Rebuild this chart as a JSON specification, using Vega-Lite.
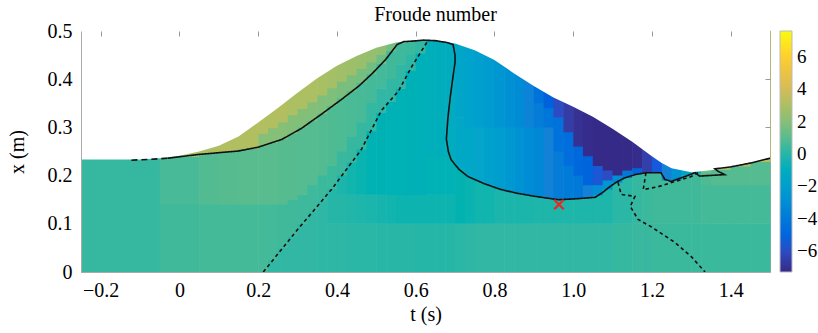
{
 "$schema": "https://vega.github.io/schema/vega-lite/v6.json",
 "width": 689, "height": 241,
 "autosize": {"type": "none"},
 "padding": {"left": 81, "top": 31, "right": 48, "bottom": 61},
 "background": "white",
 "config": {"view": {"stroke": "#aaaaaa", "strokeWidth": 1}, "font": "Liberation Serif"},
 "title": {"text": "Froude number", "font": "Liberation Serif", "fontSize": 20, "fontWeight": "normal", "color": "black", "offset": -4, "dx": 10},
 "datasets": {
  "cells": [
{"t0":-0.25,"t1":-0.05,"x0":0,"x1":0.5,"fr":0.3},
{"t0":-0.05,"t1":0.05,"x0":0,"x1":0.14,"fr":0.5},{"t0":-0.05,"t1":0.05,"x0":0.14,"x1":0.239,"fr":0.65},{"t0":-0.05,"t1":0.05,"x0":0.239,"x1":0.5,"fr":2.8},
{"t0":0.05,"t1":0.1,"x0":0,"x1":0.14,"fr":0.6},{"t0":0.05,"t1":0.1,"x0":0.14,"x1":0.245,"fr":0.85},{"t0":0.05,"t1":0.1,"x0":0.245,"x1":0.5,"fr":3.0},
{"t0":0.1,"t1":0.15,"x0":0,"x1":0.14,"fr":0.6},{"t0":0.1,"t1":0.15,"x0":0.14,"x1":0.249,"fr":0.95},{"t0":0.1,"t1":0.15,"x0":0.249,"x1":0.5,"fr":3.1},
{"t0":0.15,"t1":0.2,"x0":0,"x1":0.14,"fr":0.6},{"t0":0.15,"t1":0.2,"x0":0.14,"x1":0.255,"fr":1.0},{"t0":0.15,"t1":0.2,"x0":0.255,"x1":0.5,"fr":3.1},
{"t0":0.2,"t1":0.225,"x0":0,"x1":0.14,"fr":0.6},{"t0":0.2,"t1":0.225,"x0":0.14,"x1":0.262,"fr":1.0},{"t0":0.2,"t1":0.225,"x0":0.262,"x1":0.287,"fr":2.0},{"t0":0.2,"t1":0.225,"x0":0.287,"x1":0.5,"fr":3.1},
{"t0":0.225,"t1":0.25,"x0":0,"x1":0.025,"fr":0.2},{"t0":0.225,"t1":0.25,"x0":0.025,"x1":0.14,"fr":0.55},{"t0":0.225,"t1":0.25,"x0":0.14,"x1":0.268,"fr":1.0},{"t0":0.225,"t1":0.25,"x0":0.268,"x1":0.298,"fr":2.0},{"t0":0.225,"t1":0.25,"x0":0.298,"x1":0.5,"fr":3.1},
{"t0":0.25,"t1":0.275,"x0":0,"x1":0.05,"fr":0.2},{"t0":0.25,"t1":0.275,"x0":0.05,"x1":0.14,"fr":0.5},{"t0":0.25,"t1":0.275,"x0":0.14,"x1":0.275,"fr":0.95},{"t0":0.25,"t1":0.275,"x0":0.275,"x1":0.31,"fr":2.0},{"t0":0.25,"t1":0.275,"x0":0.31,"x1":0.5,"fr":3.1},
{"t0":0.275,"t1":0.3,"x0":0,"x1":0.075,"fr":0.2},{"t0":0.275,"t1":0.3,"x0":0.075,"x1":0.15,"fr":0.5},{"t0":0.275,"t1":0.3,"x0":0.15,"x1":0.287,"fr":0.95},{"t0":0.275,"t1":0.3,"x0":0.287,"x1":0.325,"fr":1.9},{"t0":0.275,"t1":0.3,"x0":0.325,"x1":0.5,"fr":3.0},
{"t0":0.3,"t1":0.325,"x0":0,"x1":0.1,"fr":0.2},{"t0":0.3,"t1":0.325,"x0":0.1,"x1":0.16,"fr":0.45},{"t0":0.3,"t1":0.325,"x0":0.16,"x1":0.3,"fr":0.9},{"t0":0.3,"t1":0.325,"x0":0.3,"x1":0.338,"fr":1.9},{"t0":0.3,"t1":0.325,"x0":0.338,"x1":0.5,"fr":3.0},
{"t0":0.325,"t1":0.35,"x0":0,"x1":0.124,"fr":0.2},{"t0":0.325,"t1":0.35,"x0":0.124,"x1":0.18,"fr":0.45},{"t0":0.325,"t1":0.35,"x0":0.18,"x1":0.313,"fr":0.9},{"t0":0.325,"t1":0.35,"x0":0.313,"x1":0.352,"fr":1.9},{"t0":0.325,"t1":0.35,"x0":0.352,"x1":0.5,"fr":3.0},
{"t0":0.35,"t1":0.375,"x0":0,"x1":0.148,"fr":0.15},{"t0":0.35,"t1":0.375,"x0":0.148,"x1":0.2,"fr":0.4},{"t0":0.35,"t1":0.375,"x0":0.2,"x1":0.328,"fr":0.85},{"t0":0.35,"t1":0.375,"x0":0.328,"x1":0.366,"fr":1.8},{"t0":0.35,"t1":0.375,"x0":0.366,"x1":0.5,"fr":2.9},
{"t0":0.375,"t1":0.4,"x0":0,"x1":0.1,"fr":0.15},{"t0":0.375,"t1":0.4,"x0":0.1,"x1":0.172,"fr":0.02},{"t0":0.375,"t1":0.4,"x0":0.172,"x1":0.22,"fr":0.4},{"t0":0.375,"t1":0.4,"x0":0.22,"x1":0.344,"fr":0.8},{"t0":0.375,"t1":0.4,"x0":0.344,"x1":0.381,"fr":1.8},{"t0":0.375,"t1":0.4,"x0":0.381,"x1":0.5,"fr":2.8},
{"t0":0.4,"t1":0.425,"x0":0,"x1":0.1,"fr":0.15},{"t0":0.4,"t1":0.425,"x0":0.1,"x1":0.16,"fr":0.0},{"t0":0.4,"t1":0.425,"x0":0.16,"x1":0.2,"fr":-0.15},{"t0":0.4,"t1":0.425,"x0":0.2,"x1":0.25,"fr":0.35},{"t0":0.4,"t1":0.425,"x0":0.25,"x1":0.36,"fr":0.75},{"t0":0.4,"t1":0.425,"x0":0.36,"x1":0.395,"fr":1.7},{"t0":0.4,"t1":0.425,"x0":0.395,"x1":0.5,"fr":2.7},
{"t0":0.425,"t1":0.45,"x0":0,"x1":0.1,"fr":0.1},{"t0":0.425,"t1":0.45,"x0":0.1,"x1":0.16,"fr":-0.05},{"t0":0.425,"t1":0.45,"x0":0.16,"x1":0.227,"fr":-0.25},{"t0":0.425,"t1":0.45,"x0":0.227,"x1":0.28,"fr":0.3},{"t0":0.425,"t1":0.45,"x0":0.28,"x1":0.375,"fr":0.7},{"t0":0.425,"t1":0.45,"x0":0.375,"x1":0.408,"fr":1.7},{"t0":0.425,"t1":0.45,"x0":0.408,"x1":0.5,"fr":2.6},
{"t0":0.45,"t1":0.475,"x0":0,"x1":0.1,"fr":0.1},{"t0":0.45,"t1":0.475,"x0":0.1,"x1":0.16,"fr":-0.1},{"t0":0.45,"t1":0.475,"x0":0.16,"x1":0.254,"fr":-0.35},{"t0":0.45,"t1":0.475,"x0":0.254,"x1":0.31,"fr":0.3},{"t0":0.45,"t1":0.475,"x0":0.31,"x1":0.392,"fr":0.65},{"t0":0.45,"t1":0.475,"x0":0.392,"x1":0.421,"fr":1.6},{"t0":0.45,"t1":0.475,"x0":0.421,"x1":0.5,"fr":2.5},
{"t0":0.475,"t1":0.5,"x0":0,"x1":0.1,"fr":0.1},{"t0":0.475,"t1":0.5,"x0":0.1,"x1":0.16,"fr":-0.15},{"t0":0.475,"t1":0.5,"x0":0.16,"x1":0.292,"fr":-0.45},{"t0":0.475,"t1":0.5,"x0":0.292,"x1":0.35,"fr":0.25},{"t0":0.475,"t1":0.5,"x0":0.35,"x1":0.41,"fr":0.6},{"t0":0.475,"t1":0.5,"x0":0.41,"x1":0.435,"fr":1.5},{"t0":0.475,"t1":0.5,"x0":0.435,"x1":0.5,"fr":2.4},
{"t0":0.5,"t1":0.525,"x0":0,"x1":0.1,"fr":0.05},{"t0":0.5,"t1":0.525,"x0":0.1,"x1":0.16,"fr":-0.2},{"t0":0.5,"t1":0.525,"x0":0.16,"x1":0.33,"fr":-0.5},{"t0":0.5,"t1":0.525,"x0":0.33,"x1":0.38,"fr":0.2},{"t0":0.5,"t1":0.525,"x0":0.38,"x1":0.432,"fr":0.55},{"t0":0.5,"t1":0.525,"x0":0.432,"x1":0.45,"fr":1.4},{"t0":0.5,"t1":0.525,"x0":0.45,"x1":0.5,"fr":2.2},
{"t0":0.525,"t1":0.55,"x0":0,"x1":0.1,"fr":0.05},{"t0":0.525,"t1":0.55,"x0":0.1,"x1":0.16,"fr":-0.25},{"t0":0.525,"t1":0.55,"x0":0.16,"x1":0.353,"fr":-0.55},{"t0":0.525,"t1":0.55,"x0":0.353,"x1":0.4,"fr":0.2},{"t0":0.525,"t1":0.55,"x0":0.4,"x1":0.458,"fr":0.5},{"t0":0.525,"t1":0.55,"x0":0.458,"x1":0.5,"fr":1.6},
{"t0":0.55,"t1":0.575,"x0":0,"x1":0.1,"fr":0.05},{"t0":0.55,"t1":0.575,"x0":0.1,"x1":0.16,"fr":-0.3},{"t0":0.55,"t1":0.575,"x0":0.16,"x1":0.38,"fr":-0.6},{"t0":0.55,"t1":0.575,"x0":0.38,"x1":0.43,"fr":0.2},{"t0":0.55,"t1":0.575,"x0":0.43,"x1":0.474,"fr":0.45},{"t0":0.55,"t1":0.575,"x0":0.474,"x1":0.5,"fr":1.4},
{"t0":0.575,"t1":0.6,"x0":0,"x1":0.1,"fr":0.05},{"t0":0.575,"t1":0.6,"x0":0.1,"x1":0.16,"fr":-0.3},{"t0":0.575,"t1":0.6,"x0":0.16,"x1":0.417,"fr":-0.65},{"t0":0.575,"t1":0.6,"x0":0.417,"x1":0.45,"fr":0.15},{"t0":0.575,"t1":0.6,"x0":0.45,"x1":0.5,"fr":0.4},
{"t0":0.6,"t1":0.625,"x0":0,"x1":0.1,"fr":0.0},{"t0":0.6,"t1":0.625,"x0":0.1,"x1":0.16,"fr":-0.3},{"t0":0.6,"t1":0.625,"x0":0.16,"x1":0.453,"fr":-0.7},{"t0":0.6,"t1":0.625,"x0":0.453,"x1":0.5,"fr":0.2},
{"t0":0.625,"t1":0.65,"x0":0,"x1":0.1,"fr":0.0},{"t0":0.625,"t1":0.65,"x0":0.1,"x1":0.16,"fr":-0.3},{"t0":0.625,"t1":0.65,"x0":0.16,"x1":0.24,"fr":-0.6},{"t0":0.625,"t1":0.65,"x0":0.24,"x1":0.5,"fr":-0.75},
{"t0":0.65,"t1":0.675,"x0":0,"x1":0.1,"fr":0.0},{"t0":0.65,"t1":0.675,"x0":0.1,"x1":0.16,"fr":-0.3},{"t0":0.65,"t1":0.675,"x0":0.16,"x1":0.24,"fr":-0.6},{"t0":0.65,"t1":0.675,"x0":0.24,"x1":0.5,"fr":-0.85},
{"t0":0.675,"t1":0.7,"x0":0,"x1":0.1,"fr":0.0},{"t0":0.675,"t1":0.7,"x0":0.1,"x1":0.16,"fr":-0.3},{"t0":0.675,"t1":0.7,"x0":0.16,"x1":0.24,"fr":-0.55},{"t0":0.675,"t1":0.7,"x0":0.24,"x1":0.5,"fr":-1.0},
{"t0":0.7,"t1":0.725,"x0":0,"x1":0.1,"fr":0.1},{"t0":0.7,"t1":0.725,"x0":0.1,"x1":0.215,"fr":-0.4},{"t0":0.7,"t1":0.725,"x0":0.215,"x1":0.32,"fr":-1.4},{"t0":0.7,"t1":0.725,"x0":0.32,"x1":0.5,"fr":-1.6},
{"t0":0.725,"t1":0.75,"x0":0,"x1":0.1,"fr":0.15},{"t0":0.725,"t1":0.75,"x0":0.1,"x1":0.196,"fr":-0.35},{"t0":0.725,"t1":0.75,"x0":0.196,"x1":0.3,"fr":-1.5},{"t0":0.725,"t1":0.75,"x0":0.3,"x1":0.5,"fr":-1.8},
{"t0":0.75,"t1":0.775,"x0":0,"x1":0.1,"fr":0.2},{"t0":0.75,"t1":0.775,"x0":0.1,"x1":0.188,"fr":-0.25},{"t0":0.75,"t1":0.775,"x0":0.188,"x1":0.3,"fr":-1.7},{"t0":0.75,"t1":0.775,"x0":0.3,"x1":0.5,"fr":-2.0},
{"t0":0.775,"t1":0.8,"x0":0,"x1":0.1,"fr":0.2},{"t0":0.775,"t1":0.8,"x0":0.1,"x1":0.18,"fr":-0.25},{"t0":0.775,"t1":0.8,"x0":0.18,"x1":0.3,"fr":-1.9},{"t0":0.775,"t1":0.8,"x0":0.3,"x1":0.5,"fr":-2.2},
{"t0":0.8,"t1":0.825,"x0":0,"x1":0.1,"fr":0.2},{"t0":0.8,"t1":0.825,"x0":0.1,"x1":0.172,"fr":-0.15},{"t0":0.8,"t1":0.825,"x0":0.172,"x1":0.3,"fr":-2.1},{"t0":0.8,"t1":0.825,"x0":0.3,"x1":0.5,"fr":-2.5},
{"t0":0.825,"t1":0.85,"x0":0,"x1":0.1,"fr":0.2},{"t0":0.825,"t1":0.85,"x0":0.1,"x1":0.167,"fr":-0.15},{"t0":0.825,"t1":0.85,"x0":0.167,"x1":0.3,"fr":-2.4},{"t0":0.825,"t1":0.85,"x0":0.3,"x1":0.5,"fr":-2.8},
{"t0":0.85,"t1":0.875,"x0":0,"x1":0.1,"fr":0.2},{"t0":0.85,"t1":0.875,"x0":0.1,"x1":0.163,"fr":-0.15},{"t0":0.85,"t1":0.875,"x0":0.163,"x1":0.3,"fr":-2.7},{"t0":0.85,"t1":0.875,"x0":0.3,"x1":0.5,"fr":-3.1},
{"t0":0.875,"t1":0.9,"x0":0,"x1":0.1,"fr":0.2},{"t0":0.875,"t1":0.9,"x0":0.1,"x1":0.159,"fr":-0.15},{"t0":0.875,"t1":0.9,"x0":0.159,"x1":0.3,"fr":-3.0},{"t0":0.875,"t1":0.9,"x0":0.3,"x1":0.5,"fr":-3.5},
{"t0":0.9,"t1":0.925,"x0":0,"x1":0.1,"fr":0.2},{"t0":0.9,"t1":0.925,"x0":0.1,"x1":0.156,"fr":-0.1},{"t0":0.9,"t1":0.925,"x0":0.156,"x1":0.3,"fr":-3.3},{"t0":0.9,"t1":0.925,"x0":0.3,"x1":0.35,"fr":-3.8},{"t0":0.9,"t1":0.925,"x0":0.35,"x1":0.5,"fr":-4.4},
{"t0":0.925,"t1":0.95,"x0":0,"x1":0.1,"fr":0.2},{"t0":0.925,"t1":0.95,"x0":0.1,"x1":0.153,"fr":-0.1},{"t0":0.925,"t1":0.95,"x0":0.153,"x1":0.3,"fr":-3.6},{"t0":0.925,"t1":0.95,"x0":0.3,"x1":0.34,"fr":-4.2},{"t0":0.925,"t1":0.95,"x0":0.34,"x1":0.5,"fr":-5.2},
{"t0":0.95,"t1":0.975,"x0":0,"x1":0.1,"fr":0.2},{"t0":0.95,"t1":0.975,"x0":0.1,"x1":0.15,"fr":-0.1},{"t0":0.95,"t1":0.975,"x0":0.15,"x1":0.25,"fr":-3.8},{"t0":0.95,"t1":0.975,"x0":0.25,"x1":0.32,"fr":-4.4},{"t0":0.95,"t1":0.975,"x0":0.32,"x1":0.5,"fr":-6.0},
{"t0":0.975,"t1":1.0,"x0":0,"x1":0.1,"fr":0.2},{"t0":0.975,"t1":1.0,"x0":0.1,"x1":0.151,"fr":-0.1},{"t0":0.975,"t1":1.0,"x0":0.151,"x1":0.22,"fr":-3.9},{"t0":0.975,"t1":1.0,"x0":0.22,"x1":0.29,"fr":-4.6},{"t0":0.975,"t1":1.0,"x0":0.29,"x1":0.5,"fr":-6.6},
{"t0":1.0,"t1":1.025,"x0":0,"x1":0.1,"fr":0.2},{"t0":1.0,"t1":1.025,"x0":0.1,"x1":0.152,"fr":-0.1},{"t0":1.0,"t1":1.025,"x0":0.152,"x1":0.2,"fr":-4.0},{"t0":1.0,"t1":1.025,"x0":0.2,"x1":0.26,"fr":-4.9},{"t0":1.0,"t1":1.025,"x0":0.26,"x1":0.5,"fr":-7.0},
{"t0":1.025,"t1":1.05,"x0":0,"x1":0.1,"fr":0.2},{"t0":1.025,"t1":1.05,"x0":0.1,"x1":0.154,"fr":-0.1},{"t0":1.025,"t1":1.05,"x0":0.154,"x1":0.18,"fr":-3.6},{"t0":1.025,"t1":1.05,"x0":0.18,"x1":0.24,"fr":-5.1},{"t0":1.025,"t1":1.05,"x0":0.24,"x1":0.5,"fr":-7.2},
{"t0":1.05,"t1":1.075,"x0":0,"x1":0.1,"fr":0.2},{"t0":1.05,"t1":1.075,"x0":0.1,"x1":0.158,"fr":-0.1},{"t0":1.05,"t1":1.075,"x0":0.158,"x1":0.18,"fr":-2.8},{"t0":1.05,"t1":1.075,"x0":0.18,"x1":0.22,"fr":-5.6},{"t0":1.05,"t1":1.075,"x0":0.22,"x1":0.5,"fr":-7.3},
{"t0":1.075,"t1":1.1,"x0":0,"x1":0.1,"fr":0.2},{"t0":1.075,"t1":1.1,"x0":0.1,"x1":0.171,"fr":-0.1},{"t0":1.075,"t1":1.1,"x0":0.171,"x1":0.19,"fr":-2.5},{"t0":1.075,"t1":1.1,"x0":0.19,"x1":0.21,"fr":-6.0},{"t0":1.075,"t1":1.1,"x0":0.21,"x1":0.5,"fr":-7.3},
{"t0":1.1,"t1":1.125,"x0":0,"x1":0.1,"fr":0.3},{"t0":1.1,"t1":1.125,"x0":0.1,"x1":0.185,"fr":0.1},{"t0":1.1,"t1":1.125,"x0":0.185,"x1":0.2,"fr":-3.0},{"t0":1.1,"t1":1.125,"x0":0.2,"x1":0.5,"fr":-7.3},
{"t0":1.125,"t1":1.15,"x0":0,"x1":0.1,"fr":0.3},{"t0":1.125,"t1":1.15,"x0":0.1,"x1":0.195,"fr":0.1},{"t0":1.125,"t1":1.15,"x0":0.195,"x1":0.21,"fr":-4.0},{"t0":1.125,"t1":1.15,"x0":0.21,"x1":0.5,"fr":-7.3},
{"t0":1.15,"t1":1.175,"x0":0,"x1":0.1,"fr":0.35},{"t0":1.15,"t1":1.175,"x0":0.1,"x1":0.203,"fr":0.3},{"t0":1.15,"t1":1.175,"x0":0.203,"x1":0.215,"fr":-5.0},{"t0":1.15,"t1":1.175,"x0":0.215,"x1":0.5,"fr":-7.2},
{"t0":1.175,"t1":1.2,"x0":0,"x1":0.1,"fr":0.35},{"t0":1.175,"t1":1.2,"x0":0.1,"x1":0.206,"fr":0.4},{"t0":1.175,"t1":1.2,"x0":0.206,"x1":0.5,"fr":-6.5},
{"t0":1.2,"t1":1.225,"x0":0,"x1":0.1,"fr":0.4},{"t0":1.2,"t1":1.225,"x0":0.1,"x1":0.206,"fr":0.5},{"t0":1.2,"t1":1.225,"x0":0.206,"x1":0.5,"fr":-5.5},
{"t0":1.225,"t1":1.25,"x0":0,"x1":0.1,"fr":0.4},{"t0":1.225,"t1":1.25,"x0":0.1,"x1":0.19,"fr":0.5},{"t0":1.225,"t1":1.25,"x0":0.19,"x1":0.5,"fr":-3.6},
{"t0":1.25,"t1":1.275,"x0":0,"x1":0.1,"fr":0.4},{"t0":1.25,"t1":1.275,"x0":0.1,"x1":0.19,"fr":0.5},{"t0":1.25,"t1":1.275,"x0":0.19,"x1":0.5,"fr":-2.6},
{"t0":1.275,"t1":1.3,"x0":0,"x1":0.1,"fr":0.4},{"t0":1.275,"t1":1.3,"x0":0.1,"x1":0.2,"fr":0.5},{"t0":1.275,"t1":1.3,"x0":0.2,"x1":0.5,"fr":-1.8},
{"t0":1.3,"t1":1.325,"x0":0,"x1":0.1,"fr":0.4},{"t0":1.3,"t1":1.325,"x0":0.1,"x1":0.205,"fr":0.5},{"t0":1.3,"t1":1.325,"x0":0.205,"x1":0.5,"fr":-1.2},
{"t0":1.325,"t1":1.35,"x0":0,"x1":0.1,"fr":0.4},{"t0":1.325,"t1":1.35,"x0":0.1,"x1":0.18,"fr":0.6},{"t0":1.325,"t1":1.35,"x0":0.18,"x1":0.205,"fr":0.8},{"t0":1.325,"t1":1.35,"x0":0.205,"x1":0.5,"fr":1.5},
{"t0":1.35,"t1":1.4,"x0":0,"x1":0.1,"fr":0.4},{"t0":1.35,"t1":1.4,"x0":0.1,"x1":0.18,"fr":0.6},{"t0":1.35,"t1":1.4,"x0":0.18,"x1":0.212,"fr":0.9},{"t0":1.35,"t1":1.4,"x0":0.212,"x1":0.5,"fr":2.8},
{"t0":1.4,"t1":1.45,"x0":0,"x1":0.1,"fr":0.4},{"t0":1.4,"t1":1.45,"x0":0.1,"x1":0.18,"fr":0.6},{"t0":1.4,"t1":1.45,"x0":0.18,"x1":0.219,"fr":0.9},{"t0":1.4,"t1":1.45,"x0":0.219,"x1":0.5,"fr":3.0},
{"t0":1.45,"t1":1.5,"x0":0,"x1":0.1,"fr":0.4},{"t0":1.45,"t1":1.5,"x0":0.1,"x1":0.18,"fr":0.6},{"t0":1.45,"t1":1.5,"x0":0.18,"x1":0.228,"fr":0.9},{"t0":1.45,"t1":1.5,"x0":0.228,"x1":0.5,"fr":3.2}
  ],
  "surface": [
{"t":-0.25,"s":0.2336},{"t":-0.1,"s":0.2336},{"t":-0.05,"s":0.236},{"t":0.0,"s":0.241},{"t":0.05,"s":0.25},{"t":0.1,"s":0.262},{"t":0.15,"s":0.281},{"t":0.2,"s":0.31},{"t":0.25,"s":0.34},{"t":0.3,"s":0.372},{"t":0.35,"s":0.402},{"t":0.4,"s":0.428},{"t":0.45,"s":0.448},{"t":0.5,"s":0.465},{"t":0.55,"s":0.476},{"t":0.6,"s":0.481},{"t":0.625,"s":0.482},{"t":0.65,"s":0.481},{"t":0.7,"s":0.474},{"t":0.75,"s":0.46},{"t":0.8,"s":0.44},{"t":0.85,"s":0.412},{"t":0.9,"s":0.386},{"t":0.95,"s":0.362},{"t":1.0,"s":0.343},{"t":1.05,"s":0.322},{"t":1.1,"s":0.297},{"t":1.15,"s":0.27},{"t":1.2,"s":0.24},{"t":1.225,"s":0.226},{"t":1.25,"s":0.215},{"t":1.3,"s":0.207},{"t":1.35,"s":0.211},{"t":1.4,"s":0.218},{"t":1.45,"s":0.226},{"t":1.5,"s":0.237}
  ],
  "contours": [
{"id":"d0","kind":"longdash","k":1,"t":-0.122,"x":0.232},{"id":"d0","kind":"longdash","k":2,"t":-0.08,"x":0.2335},{"id":"d0","kind":"longdash","k":3,"t":-0.03,"x":0.236},
{"id":"s1","kind":"solid","k":1,"t":-0.03,"x":0.236},{"id":"s1","kind":"solid","k":2,"t":0.05,"x":0.244},{"id":"s1","kind":"solid","k":3,"t":0.15,"x":0.251},{"id":"s1","kind":"solid","k":4,"t":0.2,"x":0.259},{"id":"s1","kind":"solid","k":5,"t":0.26,"x":0.275},{"id":"s1","kind":"solid","k":6,"t":0.31,"x":0.298},{"id":"s1","kind":"solid","k":7,"t":0.36,"x":0.327},{"id":"s1","kind":"solid","k":8,"t":0.41,"x":0.357},{"id":"s1","kind":"solid","k":9,"t":0.456,"x":0.386},{"id":"s1","kind":"solid","k":10,"t":0.49,"x":0.412},{"id":"s1","kind":"solid","k":11,"t":0.524,"x":0.441},{"id":"s1","kind":"solid","k":12,"t":0.553,"x":0.472},{"id":"s1","kind":"solid","k":13,"t":0.57,"x":0.478},{"id":"s1","kind":"solid","k":14,"t":0.592,"x":0.479},{"id":"s1","kind":"solid","k":15,"t":0.62,"x":0.481},{"id":"s1","kind":"solid","k":16,"t":0.65,"x":0.48},{"id":"s1","kind":"solid","k":17,"t":0.68,"x":0.476},{"id":"s1","kind":"solid","k":18,"t":0.695,"x":0.472},{"id":"s1","kind":"solid","k":19,"t":0.7,"x":0.45},{"id":"s1","kind":"solid","k":20,"t":0.7,"x":0.435},{"id":"s1","kind":"solid","k":21,"t":0.694,"x":0.4},{"id":"s1","kind":"solid","k":22,"t":0.688,"x":0.364},{"id":"s1","kind":"solid","k":23,"t":0.682,"x":0.32},{"id":"s1","kind":"solid","k":24,"t":0.678,"x":0.276},{"id":"s1","kind":"solid","k":25,"t":0.683,"x":0.25},{"id":"s1","kind":"solid","k":26,"t":0.69,"x":0.233},{"id":"s1","kind":"solid","k":27,"t":0.71,"x":0.213},{"id":"s1","kind":"solid","k":28,"t":0.733,"x":0.198},{"id":"s1","kind":"solid","k":29,"t":0.775,"x":0.183},{"id":"s1","kind":"solid","k":30,"t":0.817,"x":0.171},{"id":"s1","kind":"solid","k":31,"t":0.86,"x":0.163},{"id":"s1","kind":"solid","k":32,"t":0.903,"x":0.157},{"id":"s1","kind":"solid","k":33,"t":0.962,"x":0.15},{"id":"s1","kind":"solid","k":34,"t":1.01,"x":0.152},{"id":"s1","kind":"solid","k":35,"t":1.056,"x":0.155},{"id":"s1","kind":"solid","k":36,"t":1.075,"x":0.165},{"id":"s1","kind":"solid","k":37,"t":1.09,"x":0.175},{"id":"s1","kind":"solid","k":38,"t":1.107,"x":0.185},{"id":"s1","kind":"solid","k":39,"t":1.13,"x":0.195},{"id":"s1","kind":"solid","k":40,"t":1.157,"x":0.202},{"id":"s1","kind":"solid","k":41,"t":1.185,"x":0.206},{"id":"s1","kind":"solid","k":42,"t":1.223,"x":0.206},{"id":"s1","kind":"solid","k":43,"t":1.233,"x":0.192},{"id":"s1","kind":"solid","k":44,"t":1.249,"x":0.188},{"id":"s1","kind":"solid","k":45,"t":1.28,"x":0.197},{"id":"s1","kind":"solid","k":46,"t":1.31,"x":0.206},{"id":"s1","kind":"solid","k":47,"t":1.321,"x":0.199},{"id":"s1","kind":"solid","k":48,"t":1.385,"x":0.202},{"id":"s1","kind":"solid","k":49,"t":1.368,"x":0.209},{"id":"s1","kind":"solid","k":50,"t":1.36,"x":0.214},{"id":"s1","kind":"solid","k":51,"t":1.4,"x":0.218},{"id":"s1","kind":"solid","k":52,"t":1.45,"x":0.226},{"id":"s1","kind":"solid","k":53,"t":1.5,"x":0.236},
{"id":"d1","kind":"dashed","k":1,"t":0.213,"x":0},{"id":"d1","kind":"dashed","k":2,"t":0.3,"x":0.088},{"id":"d1","kind":"dashed","k":3,"t":0.386,"x":0.171},{"id":"d1","kind":"dashed","k":4,"t":0.462,"x":0.254},{"id":"d1","kind":"dashed","k":5,"t":0.513,"x":0.335},{"id":"d1","kind":"dashed","k":6,"t":0.556,"x":0.375},{"id":"d1","kind":"dashed","k":7,"t":0.59,"x":0.426},{"id":"d1","kind":"dashed","k":8,"t":0.61,"x":0.452},{"id":"d1","kind":"dashed","k":9,"t":0.625,"x":0.472},{"id":"d1","kind":"dashed","k":10,"t":0.632,"x":0.481},
{"id":"d2","kind":"dashed","k":1,"t":1.114,"x":0.186},{"id":"d2","kind":"dashed","k":2,"t":1.122,"x":0.161},{"id":"d2","kind":"dashed","k":3,"t":1.157,"x":0.157},{"id":"d2","kind":"dashed","k":4,"t":1.145,"x":0.136},{"id":"d2","kind":"dashed","k":5,"t":1.165,"x":0.109},{"id":"d2","kind":"dashed","k":6,"t":1.198,"x":0.094},{"id":"d2","kind":"dashed","k":7,"t":1.259,"x":0.061},{"id":"d2","kind":"dashed","k":8,"t":1.3,"x":0.032},{"id":"d2","kind":"dashed","k":9,"t":1.335,"x":0},
{"id":"d3","kind":"dashed","k":1,"t":1.185,"x":0.206},{"id":"d3","kind":"dashed","k":2,"t":1.178,"x":0.171},{"id":"d3","kind":"dashed","k":3,"t":1.216,"x":0.177},{"id":"d3","kind":"dashed","k":4,"t":1.3,"x":0.198},{"id":"d3","kind":"dashed","k":5,"t":1.317,"x":0.206}
  ],
  "marker": [{"t": 0.964, "x": 0.14}]
 },
 "resolve": {"axis": {"x": "independent", "y": "independent"}},
 "layer": [
  {
   "data": {"name": "cells"},
   "mark": {"type": "rect", "x2Offset": 0.6, "y2Offset": -0.6},
   "encoding": {
    "x": {"field": "t0", "type": "quantitative", "scale": {"domain": [-0.25, 1.5], "nice": false, "zero": false},
          "axis": {"orient": "bottom", "values": [-0.2, 0, 0.2, 0.4, 0.6, 0.8, 1.0, 1.2, 1.4], "labelExpr": "datum.value == 0 ? '0' : format(datum.value, '.1f')", "ticks": false, "tickSize": 0, "domain": true, "domainColor": "#aaaaaa", "grid": false, "labelFont": "Liberation Serif", "labelFontSize": 20, "labelColor": "black", "labelPadding": 8, "title": "t (s)", "titleFont": "Liberation Serif", "titleFontSize": 20, "titleFontWeight": "normal", "titleColor": "black", "titlePadding": 4, "zindex": 1}},
    "x2": {"field": "t1"},
    "y": {"field": "x0", "type": "quantitative", "scale": {"domain": [0, 0.5], "nice": false, "zero": false},
          "axis": {"orient": "left", "values": [0, 0.1, 0.2, 0.3, 0.4, 0.5], "labelExpr": "datum.value == 0 ? '0' : format(datum.value, '.1f')", "ticks": false, "tickSize": 0, "domain": true, "domainColor": "#aaaaaa", "grid": false, "labelFont": "Liberation Serif", "labelFontSize": 20, "labelColor": "black", "labelPadding": 9, "title": "x (m)", "titleFont": "Liberation Serif", "titleFontSize": 20, "titleFontWeight": "normal", "titleColor": "black", "titlePadding": 20, "zindex": 1}},
    "y2": {"field": "x1"},
    "fill": {"field": "fr", "type": "quantitative",
             "scale": {"type": "linear", "domain": [-7.3, -5.4375, -3.575, -1.7125, 0.15, 2.0125, 3.875, 5.7375, 7.6], "range": ["#352a87", "#0f5cdd", "#1481d6", "#06a4ca", "#2eb7a4", "#87bf77", "#d1bb59", "#fec832", "#f9fb0e"]},
             "legend": {"type": "gradient", "direction": "vertical", "orient": "right", "offset": 6, "padding": 0, "title": null, "values": [-6, -4, -2, 0, 2, 4, 6], "gradientLength": 241, "gradientThickness": 12, "gradientStrokeColor": "#bbbbbb", "gradientStrokeWidth": 1, "labelFont": "Liberation Serif", "labelFontSize": 19, "labelColor": "black", "labelOffset": 5, "labelOverlap": false}}
   }
  },
  {
   "data": {"name": "surface"},
   "mark": {"type": "area", "fill": "white", "opacity": 1, "fillOpacity": 1, "interpolate": "linear", "y2Offset": -2},
   "encoding": {
    "x": {"field": "t", "type": "quantitative", "axis": {"orient": "top", "offset": -5, "values": [-0.2, 0, 0.2, 0.4, 0.6, 0.8, 1.0, 1.2, 1.4], "labels": false, "ticks": true, "tickSize": 5, "tickColor": "#999999", "domain": false, "grid": false, "title": null, "zindex": 1}},
    "y": {"field": "s", "type": "quantitative", "stack": null, "axis": {"orient": "right", "offset": -5, "values": [0.3, 0.4], "labels": false, "ticks": true, "tickSize": 5, "tickColor": "#999999", "domain": false, "grid": false, "title": null, "zindex": 1}},
    "y2": {"datum": 0.5}
   }
  },
  {
   "data": {"name": "contours"},
   "mark": {"type": "line", "strokeWidth": 1.6, "color": "#111111"},
   "encoding": {
    "x": {"field": "t", "type": "quantitative", "axis": null},
    "y": {"field": "x", "type": "quantitative", "axis": null},
    "detail": {"field": "id"},
    "order": {"field": "k", "type": "quantitative"},
    "strokeDash": {"field": "kind", "type": "nominal", "scale": {"domain": ["solid", "dashed", "longdash"], "range": [[1, 0], [3.5, 3], [6, 4]]}, "legend": null}
   }
  },
  {
   "data": {"name": "marker"},
   "mark": {"type": "point", "shape": "M-1,-1L1,1M1,-1L-1,1", "size": 90, "filled": false, "stroke": "#e8281e", "strokeWidth": 2.2, "opacity": 1},
   "encoding": {
    "x": {"field": "t", "type": "quantitative", "axis": null},
    "y": {"field": "x", "type": "quantitative", "axis": null}
   }
  }
 ]
}
